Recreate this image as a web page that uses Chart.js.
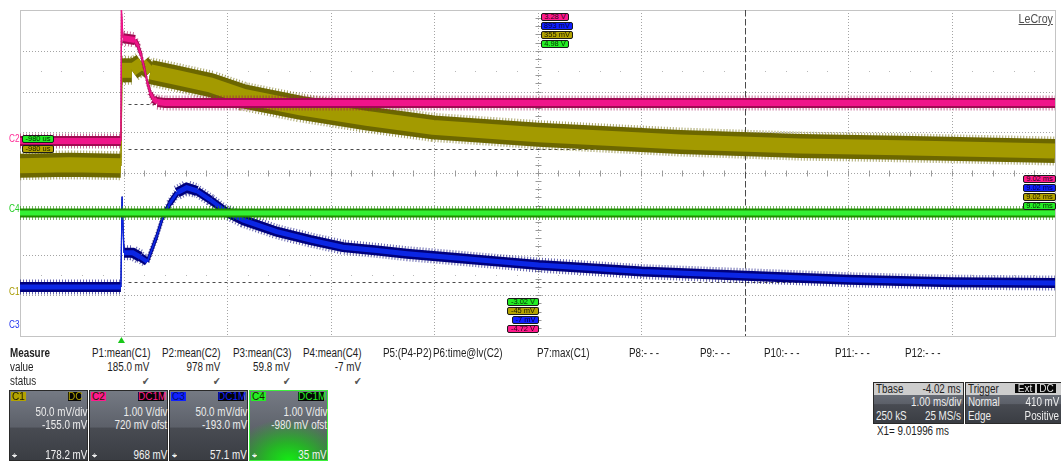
<!DOCTYPE html>
<html>
<head>
<meta charset="utf-8">
<script src="https://cdn.jsdelivr.net/npm/chart.js@4.4.1/dist/chart.umd.min.js"></script>
<style>
body { margin:0; width:1061px; height:462px; overflow:hidden; background:#fff; position:relative;
       font-family:"Liberation Sans", Arial, sans-serif; }
#plot { position:absolute; left:0; top:0; width:1061px; height:345px; }
.t { position:absolute; white-space:nowrap; font-size:12px; line-height:14px; color:#1e1e1e; }
.l { transform-origin:left center; transform:scaleX(.82); }
.r { transform-origin:right center; transform:scaleX(.82); }
.tag { position:absolute; font-size:7.5px; line-height:6px; height:6px; border:1px solid #1a1a1a;
       border-radius:2px; white-space:nowrap; text-align:center; overflow:hidden; }
.box { position:absolute; border:1px solid #2a2a2a; overflow:hidden;
       background:linear-gradient(#757a84, #5c6069 52%, #484b52 54%, #3a3d43); }
.ctag { position:absolute; font-size:10px; line-height:9px; height:9px; text-align:center; }
</style>
</head>
<body>
<div id="plot"><canvas id="scope"></canvas></div>
<script>
// time axis (ms) and screen settings
const timeLeft = -0.98;
const timeRight = 9.02;
const cursorTime = 6.02;

// channel settings: C1, C2, C3, C4
const chNames = ['C1', 'C2', 'C3', 'C4'];
const chScale = [50, 1000, 50, 1000];        // mV/div
const chOffset = [-155, 720, -193, -980];    // mV offset
const chMean = [185.0, 978, 59.8, -7];       // mV, measured means

// C1 (olive) trace
const c1Time = [-0.98, -0.5, -0.005, 0.005, 0.015, 0.1, 0.2, 0.28, 0.54, 0.86, 1.18, 1.73, 2.37, 3.01, 4.03, 5.4, 6.56, 7.52, 9.02];
const c1mV   = [164, 165, 164, 281, 281, 281, 290, 279, 272, 263, 249, 235, 222, 211, 202, 193, 188, 186, 182];

// C2 (magenta) trace
const c2Time = [-0.98, -0.005, 0.0, 0.015, 0.13, 0.16, 0.19, 0.22, 0.25, 0.28, 0.31, 0.35, 0.42, 9.02];
const c2mV   = [65, 65, 3280, 2590, 2545, 2400, 2180, 1860, 1510, 1245, 1095, 1020, 998, 998];

// C3 (blue) trace
const c3Time = [-0.98, -0.005, 0.006, 0.025, 0.11, 0.18, 0.25, 0.34, 0.4, 0.47, 0.54, 0.63, 0.73, 0.86, 1.02, 1.18, 1.5, 1.82, 2.14, 2.47, 2.76, 4.03, 5.03, 6.03, 7.03, 8.03, 9.02];
const c3mV   = [53, 53, 164, 95, 95, 90, 84, 115, 139, 156, 169, 175, 171, 160, 145, 135, 121, 111, 102, 98, 94, 80, 72, 67, 62, 59, 58];

// C4 (green) trace
const c4Time = [-0.98, 4.0, 9.02];
const c4mV   = [0, 0, 0];

// measurement table
const measLabels = ['P1:mean(C1)', 'P2:mean(C2)', 'P3:mean(C3)', 'P4:mean(C4)', 'P5:(P4-P2)', 'P6:time@lv(C2)',
                    'P7:max(C1)', 'P8:- - -', 'P9:- - -', 'P10:- - -', 'P11:- - -', 'P12:- - -'];
const measValues = ['185.0 mV', '978 mV', '59.8 mV', '-7 mV'];

// channel descriptor boxes
const chCoupling = ['DC', 'DC1M', 'DC1M', 'DC1M'];
const chVdivText = ['50.0 mV/div', '1.00 V/div', '50.0 mV/div', '1.00 V/div'];
const chOfstText = ['-155.0 mV', '720 mV ofst', '-193.0 mV', '-980 mV ofst'];
const chReadout  = ['178.2 mV', '968 mV', '57.1 mV', '35 mV'];

const traces = [
    { t: c1Time, v: c1mV, ch: 0, dark: '#6c6700', core: '#a39a00', w: 24, cw: 15, order: 4 },
    { t: c2Time, v: c2mV, ch: 1, dark: '#a00a52', core: '#f0148a', w: 10, cw: 6, order: 2 },
    { t: c3Time, v: c3mV, ch: 2, dark: '#00007c', core: '#0b26e4', w: 10, cw: 5, order: 6 },
    { t: c4Time, v: c4mV, ch: 3, dark: '#1f8c00', core: '#33f033', w: 9, cw: 5, order: 0 }
];

function toDiv(mv, ch) {
    return (mv + chOffset[ch]) / chScale[ch];
}

// keep the vertical thickness of the noise band, thin on fast edges
function bandSegment(w) {
    return {
        borderWidth: c => {
            const dx = Math.abs(c.p1.x - c.p0.x), dy = Math.abs(c.p1.y - c.p0.y);
            const f = dx / Math.hypot(dx, dy || 0.001);
            if (f > 0.85) return w;
            return Math.max(1.2, w * f);
        }
    };
}

let datasets = [];
traces.forEach(tr => {
    const pts = tr.t.map((t, i) => ({ x: t, y: toDiv(tr.v[i], tr.ch) }));
    datasets.push({ data: pts, borderColor: tr.core, borderWidth: tr.cw, segment: bandSegment(tr.cw), order: tr.order });
    datasets.push({ data: pts, borderColor: tr.dark, borderWidth: tr.w, segment: bandSegment(tr.w), order: tr.order + 1 });
    datasets.push({ data: pts, borderColor: tr.dark + '99', borderWidth: tr.w + 5, borderDash: [1, 2],
                    segment: bandSegment(tr.w + 5), order: tr.order + 1.5 });
});

const scopeDecor = {
    id: 'scopeDecor',
    beforeDatasetsDraw(chart) {
        const { ctx, chartArea: a, scales: { x, y } } = chart;
        ctx.save();
        ctx.lineWidth = 1;
        // dotted grid
        ctx.strokeStyle = '#a4a4a4';
        ctx.setLineDash([1, 2]);
        for (let i = 1; i < 10; i++) {
            const px = Math.round(x.getPixelForValue(timeLeft + i)) + 0.5;
            ctx.beginPath(); ctx.moveTo(px, a.top); ctx.lineTo(px, a.bottom); ctx.stroke();
        }
        for (let d = -3; d <= 3; d++) {
            const py = Math.round(y.getPixelForValue(d)) + 0.5;
            ctx.beginPath(); ctx.moveTo(a.left, py); ctx.lineTo(a.right, py); ctx.stroke();
        }
        ctx.setLineDash([]);
        // minor ticks on centre lines
        const cx = Math.round(x.getPixelForValue((timeLeft + timeRight) / 2)) + 0.5;
        const cy = Math.round(y.getPixelForValue(0)) + 0.5;
        ctx.strokeStyle = '#9a9a9a';
        for (let k = 1; k < 50; k++) {
            const px = Math.round(x.getPixelForValue(timeLeft + k / 5)) + 0.5;
            ctx.beginPath(); ctx.moveTo(px, cy - 3); ctx.lineTo(px, cy + 3); ctx.stroke();
        }
        for (let k = -19; k < 20; k++) {
            const py = Math.round(y.getPixelForValue(k / 5)) + 0.5;
            ctx.beginPath(); ctx.moveTo(cx - 3, py); ctx.lineTo(cx + 3, py); ctx.stroke();
        }
        // faint dot rows
        ctx.fillStyle = '#b8b8b8';
        [-2.5, 2.5].forEach(d => {
            const py = Math.round(y.getPixelForValue(d));
            for (let k = 1; k < 50; k++) {
                if (k % 5 === 0) continue;
                const px = Math.round(x.getPixelForValue(timeLeft + k / 5));
                ctx.fillRect(px, py, 1, 1);
            }
        });
        // frame
        ctx.strokeStyle = '#c4c4c4';
        ctx.strokeRect(a.left + 0.5, a.top + 0.5, a.right - a.left, a.bottom - a.top);
        // mean level markers and time cursor
        ctx.strokeStyle = '#4a4a4a';
        ctx.setLineDash([3, 3]);
        chMean.forEach((m, ch) => {
            const py = Math.round(y.getPixelForValue(toDiv(m, ch))) + 0.5;
            ctx.beginPath(); ctx.moveTo(cx - 410, py); ctx.lineTo(a.right, py); ctx.stroke();
        });
        ctx.setLineDash([6, 3]);
        const px = Math.round(x.getPixelForValue(cursorTime)) + 0.5;
        ctx.beginPath(); ctx.moveTo(px, a.top); ctx.lineTo(px, a.bottom); ctx.stroke();
        ctx.restore();
    },
    afterDraw(chart) {
        const { ctx, chartArea: a, scales: { x } } = chart;
        const px = x.getPixelForValue(0);
        ctx.save();
        ctx.fillStyle = '#19c819';
        ctx.beginPath();
        ctx.moveTo(px, a.bottom + 1); ctx.lineTo(px - 3.5, a.bottom + 7); ctx.lineTo(px + 3.5, a.bottom + 7);
        ctx.closePath(); ctx.fill();
        ctx.restore();
    }
};

new Chart(document.getElementById('scope').getContext('2d'), {
    type: 'line',
    data: { datasets: datasets },
    options: {
        responsive: true,
        maintainAspectRatio: false,
        animation: false,
        layout: { padding: { left: 20, right: 6, top: 10, bottom: 9 } },
        elements: { point: { radius: 0 }, line: { tension: 0, borderCapStyle: 'butt', borderJoinStyle: 'miter' } },
        plugins: { legend: { display: false }, tooltip: { enabled: false } },
        scales: {
            x: { type: 'linear', min: timeLeft, max: timeRight, display: false },
            y: { type: 'linear', min: -4, max: 4, display: false }
        }
    },
    plugins: [scopeDecor]
});

// ---- overlay text ----
function text(x, y, s, o) {
    o = o || {};
    const d = document.createElement('div');
    d.className = 't ' + (o.right ? 'r' : 'l');
    d.textContent = s;
    d.style.top = (y - 7) + 'px';
    if (o.right) d.style.right = (1061 - x) + 'px'; else d.style.left = x + 'px';
    if (o.bold) d.style.fontWeight = 'bold';
    if (o.color) d.style.color = o.color;
    if (o.size) d.style.fontSize = o.size + 'px';
    document.body.appendChild(d);
    return d;
}
function tag(x, y, w, bg, fg, s) {
    const d = document.createElement('div');
    d.className = 'tag';
    d.textContent = s;
    d.style.cssText += `left:${x}px;top:${y}px;width:${w}px;background:${bg};color:${fg};`;
    document.body.appendChild(d);
}
function box(x, y, w, h, extra) {
    const d = document.createElement('div');
    d.className = 'box';
    d.style.cssText += `left:${x}px;top:${y}px;width:${w}px;height:${h}px;` + (extra || '');
    document.body.appendChild(d);
    return d;
}
function ctag(x, y, w, bg, fg, s) {
    const d = document.createElement('div');
    d.className = 'ctag';
    d.textContent = s;
    d.style.cssText += `left:${x}px;top:${y}px;width:${w}px;background:${bg};color:${fg};`;
    document.body.appendChild(d);
}

const tagBg = ['#b3a300', '#ff1a8c', '#1020ff', '#24ee24'];
const tagFg = ['#1a1800', '#2a0014', '#000044', '#002a00'];

// on-screen readout tags
tag(541, 13, 26, tagBg[1], tagFg[1], '3.28 V');
tag(541, 22, 30, tagBg[2], tagFg[2], '893 mV');
tag(541, 31, 30, tagBg[0], tagFg[0], '355 mV');
tag(541, 40, 26, tagBg[3], tagFg[3], '4.98 V');
['#ff1a8c', '#1020ff', '#b3a300', '#24ee24'].forEach((c, i) => {
    const fg = [tagFg[1], tagFg[2], tagFg[0], tagFg[3]][i];
    tag(1023, 175 + i * 9, 31, c, fg, '9.02 ms');
});
tag(507, 298, 30, tagBg[3], tagFg[3], '-3.02 V');
tag(507, 307, 30, tagBg[0], tagFg[0], '-45 mV');
tag(512, 316, 25, tagBg[2], tagFg[2], '-7 mV');
tag(507, 325, 30, tagBg[1], tagFg[1], '-4.72 V');
tag(22, 135, 30, tagBg[3], tagFg[3], '-980 us');
tag(22, 145, 30, tagBg[0], tagFg[0], '-980 us');

// channel markers at the left edge
text(9, 139, 'C2', { color: '#ff2a96', size: 10 });
text(9, 209, 'C4', { color: '#22cc22', size: 10 });
text(9, 292, 'C1', { color: '#a89a00', size: 10 });
text(9, 325, 'C3', { color: '#2233ee', size: 10 });

const logo = text(1053, 19, 'LeCroy', { right: true, color: '#505050', size: 13 });
logo.style.textDecoration = 'underline';

// measure table
text(10, 353, 'Measure', { bold: true });
text(10, 367, 'value');
text(10, 381, 'status');
const measX = [92, 162, 233, 303, 383, 433, 537, 629, 700, 764, 835, 905];
measLabels.forEach((s, i) => text(measX[i], 353, s));
const measRight = [149, 220, 290, 361];
measValues.forEach((s, i) => {
    text(measRight[i], 367, s, { right: true });
    text(measRight[i], 381, '\u2714', { right: true, color: '#555', size: 11 });
});

// channel boxes
const boxX = [9, 89, 169, 249];
chNames.forEach((n, i) => {
    const x0 = boxX[i];
    if (i === 3) {
        box(x0, 390, 77, 69, 'border-color:#3cf03c;background:radial-gradient(ellipse 75% 60% at 50% 100%, #14ea14 0%, #26b426 40%, rgba(70,80,80,0) 100%), linear-gradient(#757a84, #4c5057);');
    } else {
        box(x0, 390, 77, 69);
    }
    ctag(x0 + 2, 392, 15, tagBg[i], i === 2 ? '#00106a' : '#1a1a00', n);
    const cw = chCoupling[i] === 'DC' ? 13 : 26;
    ctag(x0 + 77 - cw - (i === 0 ? 5 : 2), 392, cw, '#050505', tagBg[i], chCoupling[i]);
    text(x0 + 78, 412, chVdivText[i], { right: true, color: '#ececec' });
    text(x0 + 78, 425, chOfstText[i], { right: true, color: '#ececec' });
    text(x0 + 78, 455, chReadout[i], { right: true, color: '#f2f2f2' });
    text(x0 + 3, 455, '\u2316', { color: '#f2f2f2', size: 11 });
});

// timebase and trigger boxes
box(873, 382, 89, 40);
box(965, 382, 96, 40);
const hdr1 = document.createElement('div');
hdr1.style.cssText = 'position:absolute;left:874px;top:383px;width:89px;height:12px;background:#cdcdcd;';
document.body.appendChild(hdr1);
const hdr2 = document.createElement('div');
hdr2.style.cssText = 'position:absolute;left:966px;top:383px;width:95px;height:12px;background:#cdcdcd;';
document.body.appendChild(hdr2);
text(876, 389, 'Tbase');
text(961, 389, '-4.02 ms', { right: true });
text(961, 402, '1.00 ms/div', { right: true, color: '#eee' });
text(876, 416, '250 kS', { color: '#eee' });
text(961, 416, '25 MS/s', { right: true, color: '#eee' });
text(968, 389, 'Trigger');
ctag(1015, 384, 20, '#080808', '#e0e0e0', 'Ext');
ctag(1037, 384, 19, '#080808', '#e0e0e0', 'DC');
text(968, 402, 'Normal', { color: '#eee' });
text(1059, 402, '410 mV', { right: true, color: '#eee' });
text(968, 416, 'Edge', { color: '#eee' });
text(1059, 416, 'Positive', { right: true, color: '#eee' });
text(877, 431, 'X1=  9.01996 ms');
</script>
</body>
</html>
